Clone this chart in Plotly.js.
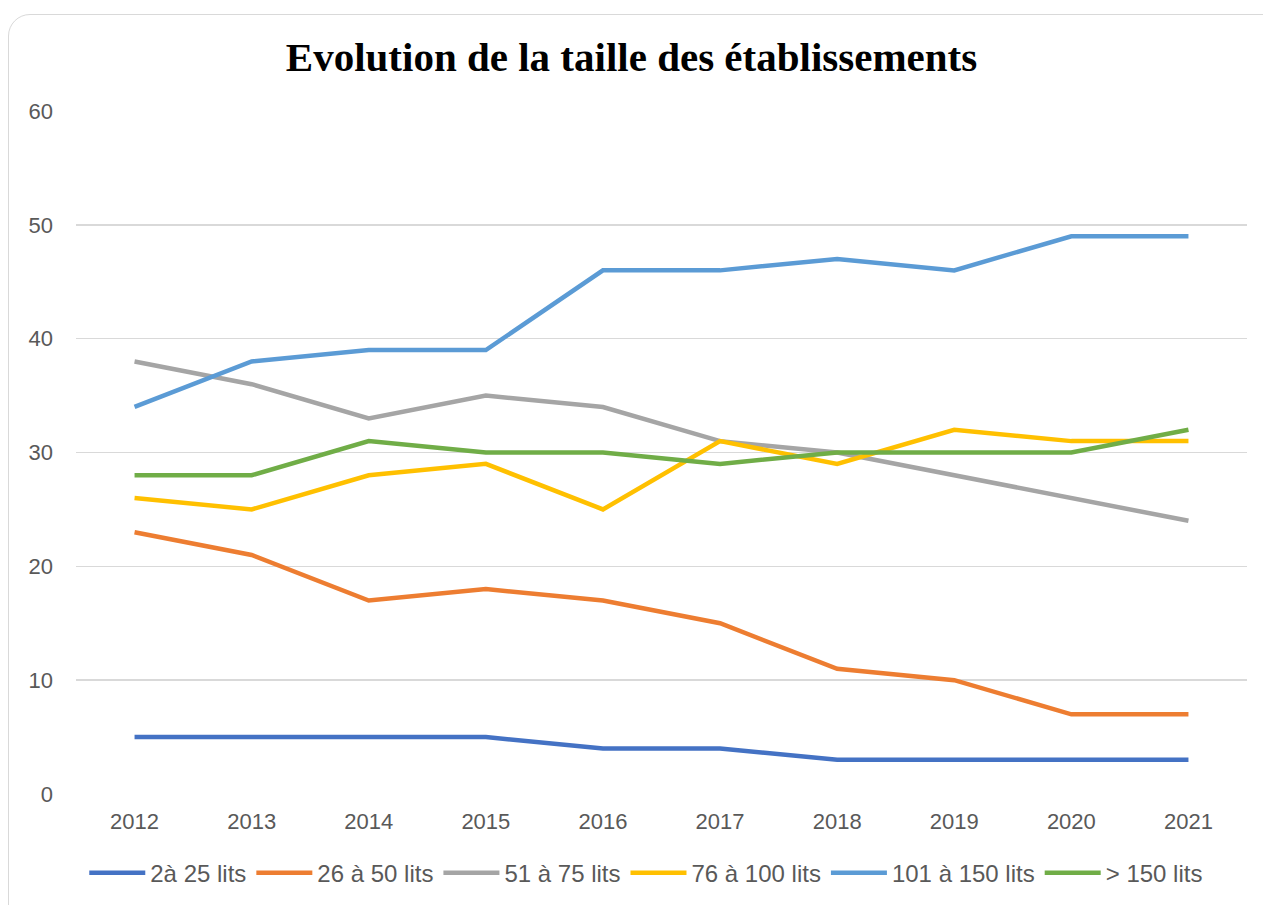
<!DOCTYPE html>
<html><head><meta charset="utf-8">
<script src="https://cdn.plot.ly/plotly-3.0.1.min.js"></script>
<style>
html,body{margin:0;padding:0;background:#fff;overflow:hidden}
#frame{position:absolute;left:8px;top:14px;width:1280px;height:920px;border:1.5px solid #d9d9d9;border-radius:22px;box-sizing:border-box}
#chart{position:absolute;left:0;top:0;width:1263px;height:905px}
</style></head>
<body>
<div id="frame"></div>
<div id="chart"></div>
<script>
const years = ['2012','2013','2014','2015','2016','2017','2018','2019','2020','2021'];
const seriesNames = ['2à 25 lits','26 à 50 lits','51 à 75 lits','76 à 100 lits','101 à 150 lits','> 150 lits'];
const s2a25 = [5,5,5,5,4,4,3,3,3,3];
const s26a50 = [23,21,17,18,17,15,11,10,7,7];
const s51a75 = [38,36,33,35,34,31,30,28,26,24];
const s76a100 = [26,25,28,29,25,31,29,32,31,31];
const s101a150 = [34,38,39,39,46,46,47,46,49,49];
const sSup150 = [28,28,31,30,30,29,30,30,30,32];
const colors = ['#4472C4','#ED7D31','#A5A5A5','#FFC000','#5B9BD5','#70AD47'];
const allSeries = [s2a25,s26a50,s51a75,s76a100,s101a150,sSup150];

const traces = allSeries.map((v,i)=>({
  x: years, y: v, name: seriesNames[i], type:'scatter', mode:'lines',
  line:{color:colors[i], width:4.5}
}));

const layout = {
  width:1263, height:905,
  paper_bgcolor:'rgba(0,0,0,0)', plot_bgcolor:'rgba(0,0,0,0)',
  margin:{l:76, r:16, t:111, b:111, autoexpand:false},
  title:{text:'<b>Evolution de la taille des établissements</b>', x:0.5, xanchor:'center', y:0.937, yanchor:'middle',
    font:{family:'Liberation Serif, serif', size:41, color:'#000'}},
  font:{family:'Liberation Sans, Arial, sans-serif', size:22, color:'#595959'},
  xaxis:{type:'category', range:[-0.5,9.5], showgrid:false, zeroline:false, showline:false, ticks:'',
    ticklabelstandoff:12, tickfont:{size:22,color:'#595959'}},
  yaxis:{range:[0,60], dtick:10, showgrid:true, gridcolor:'#d9d9d9', gridwidth:1.5,
    zeroline:false, showline:false, ticks:'', ticklabelstandoff:22, tickfont:{size:22,color:'#595959'}},
  legend:{orientation:'h', x:0.487, xanchor:'center', y:-0.083, yanchor:'top',
    font:{size:24,color:'#595959'}, itemwidth:56, tracegroupgap:0},
  showlegend:true
};
Plotly.newPlot('chart', traces, layout, {displayModeBar:false, staticPlot:true});
</script>
</body></html>
